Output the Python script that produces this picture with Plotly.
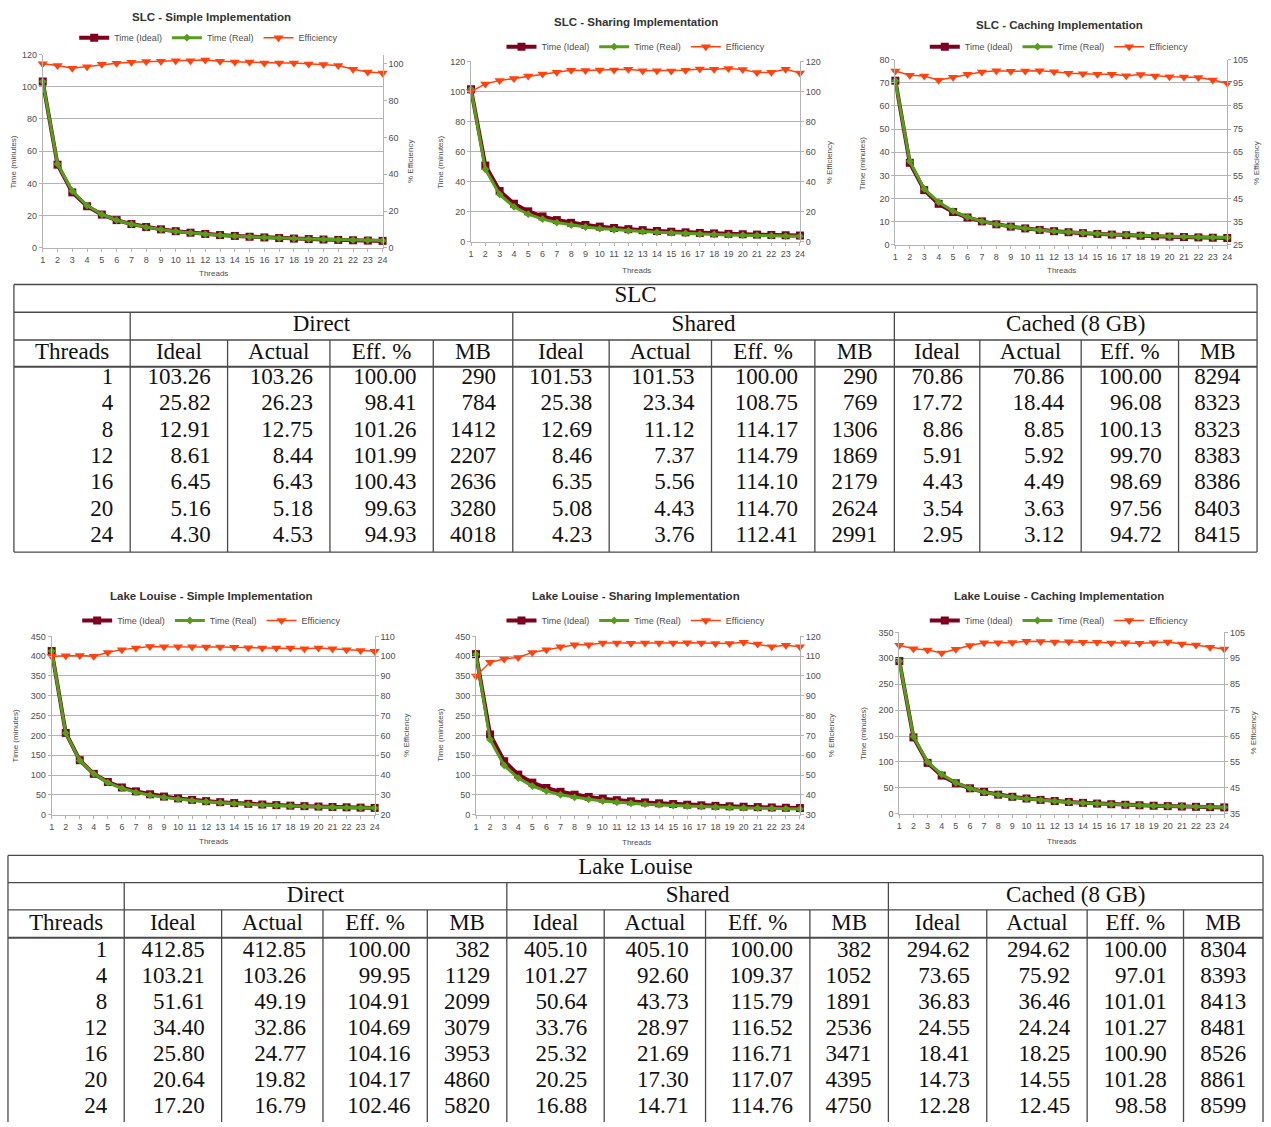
import plotly.graph_objects as go

# ---------------- chart data ----------------
threads = list(range(1, 25))

slc_simple_ideal = [103.26, 51.63, 34.42, 25.82, 20.65, 17.21, 14.75, 12.91, 11.47, 10.33, 9.39, 8.61,
                    7.94, 7.38, 6.88, 6.45, 6.07, 5.74, 5.43, 5.16, 4.92, 4.69, 4.49, 4.30]
slc_simple_real = [103.26, 52.1, 35.3, 26.23, 20.7, 17.15, 14.63, 12.75, 11.31, 10.16, 9.23, 8.44,
                   7.84, 7.30, 6.81, 6.43, 6.05, 5.72, 5.44, 5.18, 4.97, 4.84, 4.70, 4.53]
slc_simple_eff = [100.0, 99.1, 97.5, 98.41, 99.7, 100.3, 100.8, 101.26, 101.4, 101.7, 101.7, 101.99,
                  101.3, 101.0, 101.0, 100.43, 100.4, 100.4, 99.9, 99.63, 99.0, 97.0, 95.5, 94.93]

slc_sharing_ideal = [101.53, 50.77, 33.84, 25.38, 20.31, 16.92, 14.50, 12.69, 11.28, 10.15, 9.23, 8.46,
                     7.81, 7.25, 6.77, 6.35, 5.97, 5.64, 5.34, 5.08, 4.83, 4.61, 4.41, 4.23]
slc_sharing_real = [101.53, 48.31, 31.54, 23.34, 18.40, 15.15, 12.85, 11.12, 9.89, 8.87, 8.07, 7.37,
                    6.86, 6.37, 5.95, 5.56, 5.19, 4.91, 4.63, 4.43, 4.29, 4.09, 3.84, 3.76]
slc_sharing_eff = [100.0, 105.1, 107.3, 108.75, 110.4, 111.7, 112.8, 114.17, 114.0, 114.4, 114.4, 114.79,
                   113.9, 113.9, 113.7, 114.10, 115.0, 114.8, 115.4, 114.70, 112.6, 112.8, 114.8, 112.41]

slc_caching_ideal = [70.86, 35.43, 23.62, 17.72, 14.17, 11.81, 10.12, 8.86, 7.87, 7.09, 6.44, 5.91,
                     5.45, 5.06, 4.72, 4.43, 4.17, 3.94, 3.73, 3.54, 3.37, 3.22, 3.08, 2.95]
slc_caching_real = [70.86, 36.08, 24.13, 18.44, 14.56, 11.98, 10.16, 8.85, 7.88, 7.09, 6.43, 5.92,
                    5.50, 5.12, 4.79, 4.49, 4.26, 4.00, 3.81, 3.63, 3.46, 3.31, 3.20, 3.12]
slc_caching_eff = [100.0, 98.2, 97.9, 96.08, 97.3, 98.6, 99.6, 100.13, 99.9, 100.0, 100.2, 99.70,
                   99.1, 98.9, 98.6, 98.69, 98.0, 98.5, 97.9, 97.56, 97.5, 97.2, 96.2, 94.72]

ll_simple_ideal = [412.85, 206.43, 137.62, 103.21, 82.57, 68.81, 58.98, 51.61, 45.87, 41.29, 37.53, 34.40,
                   31.76, 29.49, 27.52, 25.80, 24.29, 22.94, 21.73, 20.64, 19.66, 18.77, 17.95, 17.20]
ll_simple_real = [412.85, 206.02, 137.07, 103.26, 81.03, 66.61, 56.66, 49.19, 43.81, 39.40, 35.85, 32.86,
                  30.36, 28.22, 26.39, 24.77, 23.33, 22.04, 20.93, 19.82, 18.94, 18.17, 17.46, 16.79]
ll_simple_eff = [100.0, 100.2, 100.4, 99.95, 101.9, 103.3, 104.1, 104.91, 104.7, 104.8, 104.7, 104.69,
                 104.6, 104.5, 104.3, 104.16, 104.1, 104.1, 103.8, 104.17, 103.8, 103.3, 102.8, 102.46]

ll_sharing_ideal = [405.10, 202.55, 135.03, 101.27, 81.02, 67.52, 57.87, 50.64, 45.01, 40.51, 36.83, 33.76,
                    31.16, 28.94, 27.01, 25.32, 23.83, 22.51, 21.32, 20.25, 19.29, 18.41, 17.61, 16.88]
ll_sharing_real = [405.10, 189.48, 124.34, 92.60, 72.40, 59.65, 50.45, 43.73, 38.90, 34.74, 31.59, 28.97,
                   26.72, 24.82, 23.16, 21.69, 20.44, 19.34, 18.32, 17.30, 16.61, 16.04, 15.25, 14.71]
ll_sharing_eff = [100.0, 106.9, 108.6, 109.37, 111.9, 113.2, 114.7, 115.79, 115.7, 116.6, 116.6, 116.52,
                  116.6, 116.6, 116.6, 116.71, 116.6, 116.4, 116.4, 117.07, 116.1, 114.8, 115.5, 114.76]

ll_caching_ideal = [294.62, 147.31, 98.21, 73.65, 58.92, 49.10, 42.09, 36.83, 32.74, 29.46, 26.78, 24.55,
                    22.66, 21.04, 19.64, 18.41, 17.33, 16.37, 15.51, 14.73, 14.03, 13.39, 12.81, 12.28]
ll_caching_real = [294.62, 149.25, 100.01, 75.92, 59.82, 49.15, 41.67, 36.46, 32.38, 29.00, 26.38, 24.24,
                   22.35, 20.79, 19.41, 18.25, 17.16, 16.24, 15.36, 14.55, 13.96, 13.38, 12.90, 12.45]
ll_caching_eff = [100.0, 98.7, 98.2, 97.01, 98.5, 99.9, 101.0, 101.01, 101.1, 101.6, 101.5, 101.27,
                  101.4, 101.2, 101.2, 100.90, 101.0, 100.8, 101.0, 101.28, 100.5, 100.1, 99.3, 98.58]

chart_titles = ["SLC - Simple Implementation", "SLC - Sharing Implementation", "SLC - Caching Implementation",
                "Lake Louise - Simple Implementation", "Lake Louise - Sharing Implementation",
                "Lake Louise - Caching Implementation"]
series_names = ["Time (Ideal)", "Time (Real)", "Efficiency"]

# ---------------- table data ----------------
table_threads = [1, 4, 8, 12, 16, 20, 24]
group_labels = ["Direct", "Shared", "Cached (8 GB)"]
column_labels = ["Threads", "Ideal", "Actual", "Eff. %", "MB"]
table_titles = ["SLC", "Lake Louise"]

slc_direct_ideal = [103.26, 25.82, 12.91, 8.61, 6.45, 5.16, 4.30]
slc_direct_actual = [103.26, 26.23, 12.75, 8.44, 6.43, 5.18, 4.53]
slc_direct_eff = [100.00, 98.41, 101.26, 101.99, 100.43, 99.63, 94.93]
slc_direct_mb = [290, 784, 1412, 2207, 2636, 3280, 4018]
slc_shared_ideal = [101.53, 25.38, 12.69, 8.46, 6.35, 5.08, 4.23]
slc_shared_actual = [101.53, 23.34, 11.12, 7.37, 5.56, 4.43, 3.76]
slc_shared_eff = [100.00, 108.75, 114.17, 114.79, 114.10, 114.70, 112.41]
slc_shared_mb = [290, 769, 1306, 1869, 2179, 2624, 2991]
slc_cached_ideal = [70.86, 17.72, 8.86, 5.91, 4.43, 3.54, 2.95]
slc_cached_actual = [70.86, 18.44, 8.85, 5.92, 4.49, 3.63, 3.12]
slc_cached_eff = [100.00, 96.08, 100.13, 99.70, 98.69, 97.56, 94.72]
slc_cached_mb = [8294, 8323, 8323, 8383, 8386, 8403, 8415]

ll_direct_ideal = [412.85, 103.21, 51.61, 34.40, 25.80, 20.64, 17.20]
ll_direct_actual = [412.85, 103.26, 49.19, 32.86, 24.77, 19.82, 16.79]
ll_direct_eff = [100.00, 99.95, 104.91, 104.69, 104.16, 104.17, 102.46]
ll_direct_mb = [382, 1129, 2099, 3079, 3953, 4860, 5820]
ll_shared_ideal = [405.10, 101.27, 50.64, 33.76, 25.32, 20.25, 16.88]
ll_shared_actual = [405.10, 92.60, 43.73, 28.97, 21.69, 17.30, 14.71]
ll_shared_eff = [100.00, 109.37, 115.79, 116.52, 116.71, 117.07, 114.76]
ll_shared_mb = [382, 1052, 1891, 2536, 3471, 4395, 4750]
ll_cached_ideal = [294.62, 73.65, 36.83, 24.55, 18.41, 14.73, 12.28]
ll_cached_actual = [294.62, 75.92, 36.46, 24.24, 18.25, 14.55, 12.45]
ll_cached_eff = [100.00, 97.01, 101.01, 101.27, 100.90, 101.28, 98.58]
ll_cached_mb = [8304, 8393, 8413, 8481, 8526, 8861, 8599]

# ---------------- layout / style ----------------
W, H = 1271, 1127
C_IDEAL, C_REAL, C_EFF = "#7e0021", "#579d1c", "#ff420e"
GRID = "#b3b3b3"
TXT = "#4d4d4d"
SANS = "Liberation Sans, Arial, sans-serif"
SERIF = "Liberation Serif, Times New Roman, serif"

chart_series = [
    (slc_simple_ideal, slc_simple_real, slc_simple_eff),
    (slc_sharing_ideal, slc_sharing_real, slc_sharing_eff),
    (slc_caching_ideal, slc_caching_real, slc_caching_eff),
    (ll_simple_ideal, ll_simple_real, ll_simple_eff),
    (ll_sharing_ideal, ll_sharing_real, ll_sharing_eff),
    (ll_caching_ideal, ll_caching_real, ll_caching_eff),
]
# plot boxes (px): left, right, top, bottom
boxes = [(40, 382, 50, 245), (471, 802, 57, 239), (898, 1232, 55, 242),
         (49, 374, 637, 817), (476, 802, 637, 817), (902, 1229, 633, 816)]
left_axes = [(0, 120, 20, 0), (0, 120, 20, 0), (0, 80, 10, 0),
             (0, 450, 50, 0), (0, 450, 50, 0), (0, 350, 50, 0)]
right_axes = [(0, 105, 20, 0), (0, 120, 20, 0), (25, 105, 10, 25),
              (20, 110, 10, 20), (30, 120, 10, 30), (35, 105, 10, 35)]
title_pos = [(210, 12), (637, 17), (1063, 20), (210, 596), (637, 596), (1063, 596)]
legend_pos = [(207, 33), (637, 42), (1063, 42), (210, 621), (637, 621), (1063, 621)]
ylab_pos = [(11, 410, 158), (440, 832, 159), (865, 1262, 160),
            (13, 406, 737), (440, 834, 737), (866, 1258, 735)]
xlab_pos = [(212, 271), (638, 268), (1065, 268), (212, 844), (638, 845), (1065, 844)]


def px_x(v):
    return v / W


def px_y(v):
    return 1 - v / H


fig = go.Figure()
layout = {}
annotations = []

for i, (ideal, real, eff) in enumerate(chart_series):
    xn = i + 1
    yl = 2 * i + 1
    yr = 2 * i + 2
    xid = "x" if xn == 1 else f"x{xn}"
    ylid = "y" if yl == 1 else f"y{yl}"
    yrid = f"y{yr}"
    leg = "legend" if i == 0 else f"legend{i + 1}"

    fig.add_trace(go.Scatter(x=threads, y=ideal, name=series_names[0], mode="lines+markers",
                             line=dict(color=C_IDEAL, width=4),
                             marker=dict(symbol="square", size=8, color=C_IDEAL),
                             xaxis=xid, yaxis=ylid, legend=leg, cliponaxis=False))
    fig.add_trace(go.Scatter(x=threads, y=real, name=series_names[1], mode="lines+markers",
                             line=dict(color=C_REAL, width=3),
                             marker=dict(symbol="diamond", size=6, color=C_REAL),
                             xaxis=xid, yaxis=ylid, legend=leg, cliponaxis=False))
    fig.add_trace(go.Scatter(x=threads, y=eff, name=series_names[2], mode="lines+markers",
                             line=dict(color=C_EFF, width=1.5),
                             marker=dict(symbol="triangle-down", size=9, color=C_EFF),
                             xaxis=xid, yaxis=yrid, legend=leg, cliponaxis=False))

    l, r, t, b = boxes[i]
    xkey = "xaxis" if xn == 1 else f"xaxis{xn}"
    ylkey = "yaxis" if yl == 1 else f"yaxis{yl}"
    yrkey = f"yaxis{yr}"
    layout[xkey] = dict(domain=[px_x(l), px_x(r)], anchor=ylid, range=[1, 24],
                        tickmode="array", tickvals=threads, ticktext=[str(t_) for t_ in threads],
                        ticks="outside", ticklen=3, tickcolor=GRID, showline=True, linecolor=GRID,
                        showgrid=False, zeroline=False, tickfont=dict(family=SANS, size=9, color=TXT),
                        fixedrange=True)
    lo, hi, dt, t0 = left_axes[i]
    layout[ylkey] = dict(domain=[px_y(b), px_y(t)], anchor=xid, range=[lo, hi], dtick=dt, tick0=t0,
                         showgrid=True, gridcolor=GRID, gridwidth=1, showline=True, linecolor=GRID,
                         ticks="outside", ticklen=3, tickcolor=GRID, zeroline=False,
                         tickfont=dict(family=SANS, size=9, color=TXT), fixedrange=True)
    lo, hi, dt, t0 = right_axes[i]
    layout[yrkey] = dict(overlaying=ylid, side="right", anchor=xid, range=[lo, hi], dtick=dt, tick0=t0,
                         showgrid=False, showline=True, linecolor=GRID, ticks="outside", ticklen=3,
                         tickcolor=GRID, zeroline=False,
                         tickfont=dict(family=SANS, size=9, color=TXT), fixedrange=True)
    lx, ly = legend_pos[i]
    layout[leg] = dict(orientation="h", x=px_x(lx), y=px_y(ly), xanchor="center", yanchor="middle",
                       font=dict(family=SANS, size=9, color=TXT), bgcolor="rgba(0,0,0,0)",
                       itemwidth=30, tracegroupgap=0)

    tx, ty = title_pos[i]
    annotations.append(dict(text=f"<b>{chart_titles[i]}</b>", x=px_x(tx), y=px_y(ty), xref="paper",
                            yref="paper", showarrow=False, xanchor="center", yanchor="middle",
                            font=dict(family=SANS, size=11.5, color="#333333")))
    a, bb, cy = ylab_pos[i]
    annotations.append(dict(text="Time (minutes)", x=px_x(a), y=px_y(cy), xref="paper", yref="paper",
                            showarrow=False, textangle=-90, xanchor="center", yanchor="middle",
                            font=dict(family=SANS, size=8, color=TXT)))
    annotations.append(dict(text="% Efficiency", x=px_x(bb), y=px_y(cy), xref="paper", yref="paper",
                            showarrow=False, textangle=-90, xanchor="center", yanchor="middle",
                            font=dict(family=SANS, size=8, color=TXT)))
    gx, gy = xlab_pos[i]
    annotations.append(dict(text="Threads", x=px_x(gx), y=px_y(gy), xref="paper", yref="paper",
                            showarrow=False, xanchor="center", yanchor="middle",
                            font=dict(family=SANS, size=8, color=TXT)))

# ---------------- tables (drawn on a hidden pixel-scaled axis) ----------------
TX, TY = "x7", "y13"
layout["xaxis7"] = dict(domain=[0, 1], range=[0, W], visible=False, anchor=TY, fixedrange=True)
layout["yaxis13"] = dict(domain=[0, 1], range=[H, 0], visible=False, anchor=TX, fixedrange=True)

tables = [
    dict(title=table_titles[0],
         cols=[slc_direct_ideal, slc_direct_actual, slc_direct_eff, slc_direct_mb,
               slc_shared_ideal, slc_shared_actual, slc_shared_eff, slc_shared_mb,
               slc_cached_ideal, slc_cached_actual, slc_cached_eff, slc_cached_mb],
         edges=[11, 128, 226, 329, 433, 513, 610, 713, 817, 897, 983, 1085, 1183, 1262],
         top=282, h1=310, h2=338, h3=365, bottom=552, bottom_line=True,
         title_y=294, group_y=323, header_y=351, row0=376.5, pitch=26.6),
    dict(title=table_titles[1],
         cols=[ll_direct_ideal, ll_direct_actual, ll_direct_eff, ll_direct_mb,
               ll_shared_ideal, ll_shared_actual, ll_shared_eff, ll_shared_mb,
               ll_cached_ideal, ll_cached_actual, ll_cached_eff, ll_cached_mb],
         edges=[5, 122, 220, 322, 427, 507, 605, 707, 812, 891, 990, 1091, 1188, 1268],
         top=858, h1=885.5, h2=913, h3=941, bottom=1140, bottom_line=False,
         title_y=871, group_y=899, header_y=927, row0=954.5, pitch=26.2),
]

shapes = []
LINE = dict(color="#4a4a4a", width=1.3)
PAD = 17


def hline(x0, x1, y, width=1.3):
    shapes.append(dict(type="line", xref=TX, yref=TY, x0=x0, x1=x1, y0=y, y1=y,
                       line=dict(color="#4a4a4a", width=width)))


def vline(x, y0, y1):
    shapes.append(dict(type="line", xref=TX, yref=TY, x0=x, x1=x, y0=y0, y1=y1, line=LINE))


for tb in tables:
    e = tb["edges"]
    L, R = e[0], e[-1]
    hline(L, R, tb["top"])
    hline(L, R, tb["h1"])
    hline(L, R, tb["h2"])
    hline(L, R, tb["h3"], width=2)
    if tb["bottom_line"]:
        hline(L, R, tb["bottom"])
    vline(L, tb["top"], tb["bottom"])
    vline(R, tb["top"], tb["bottom"])
    for k in (1, 5, 9):
        vline(e[k], tb["h1"], tb["bottom"])
    for k in (2, 3, 4, 6, 7, 8, 10, 11, 12):
        vline(e[k], tb["h2"], tb["bottom"])

    # centred header text
    cx, cy, ct = [], [], []
    cx.append((L + R) / 2); cy.append(tb["title_y"]); ct.append(tb["title"])
    for g in range(3):
        cx.append((e[1 + 4 * g] + e[5 + 4 * g]) / 2); cy.append(tb["group_y"]); ct.append(group_labels[g])
    cx.append((e[0] + e[1]) / 2); cy.append(tb["header_y"]); ct.append(column_labels[0])
    for g in range(3):
        for c in range(4):
            k = 1 + 4 * g + c
            cx.append((e[k] + e[k + 1]) / 2); cy.append(tb["header_y"]); ct.append(column_labels[1 + c])
    fig.add_trace(go.Scatter(x=cx, y=cy, text=ct, mode="text", textposition="middle center",
                             textfont=dict(family=SERIF, size=23, color="#111111"),
                             xaxis=TX, yaxis=TY, showlegend=False, hoverinfo="skip", cliponaxis=False))

    # right aligned body text
    rx, ry, rt = [], [], []
    for j, th in enumerate(table_threads):
        y = tb["row0"] + j * tb["pitch"]
        rx.append(e[1] - PAD); ry.append(y); rt.append(str(th))
        for c, col in enumerate(tb["cols"]):
            v = col[j]
            s = f"{v:d}" if isinstance(v, int) else f"{v:.2f}"
            rx.append(e[c + 2] - PAD); ry.append(y); rt.append(s)
    fig.add_trace(go.Scatter(x=rx, y=ry, text=rt, mode="text", textposition="middle left",
                             textfont=dict(family=SERIF, size=23, color="#111111"),
                             xaxis=TX, yaxis=TY, showlegend=False, hoverinfo="skip", cliponaxis=False))

fig.update_layout(**layout)
fig.update_layout(width=W, height=H, margin=dict(l=0, r=0, t=0, b=0), autosize=False,
                  paper_bgcolor="white", plot_bgcolor="rgba(0,0,0,0)",
                  annotations=annotations, shapes=shapes, showlegend=True,
                  font=dict(family=SANS, color=TXT))

fig.write_html(
    "out.html",
    config={"displayModeBar": False},
    post_script=("document.documentElement.style.overflow='hidden';"
                 "document.body.style.margin='0px';document.body.style.overflow='hidden';"
                 "var d=document.getElementById('{plot_id}');"
                 "d.style.position='absolute';d.style.left='0px';d.style.top='0px';"),
)
